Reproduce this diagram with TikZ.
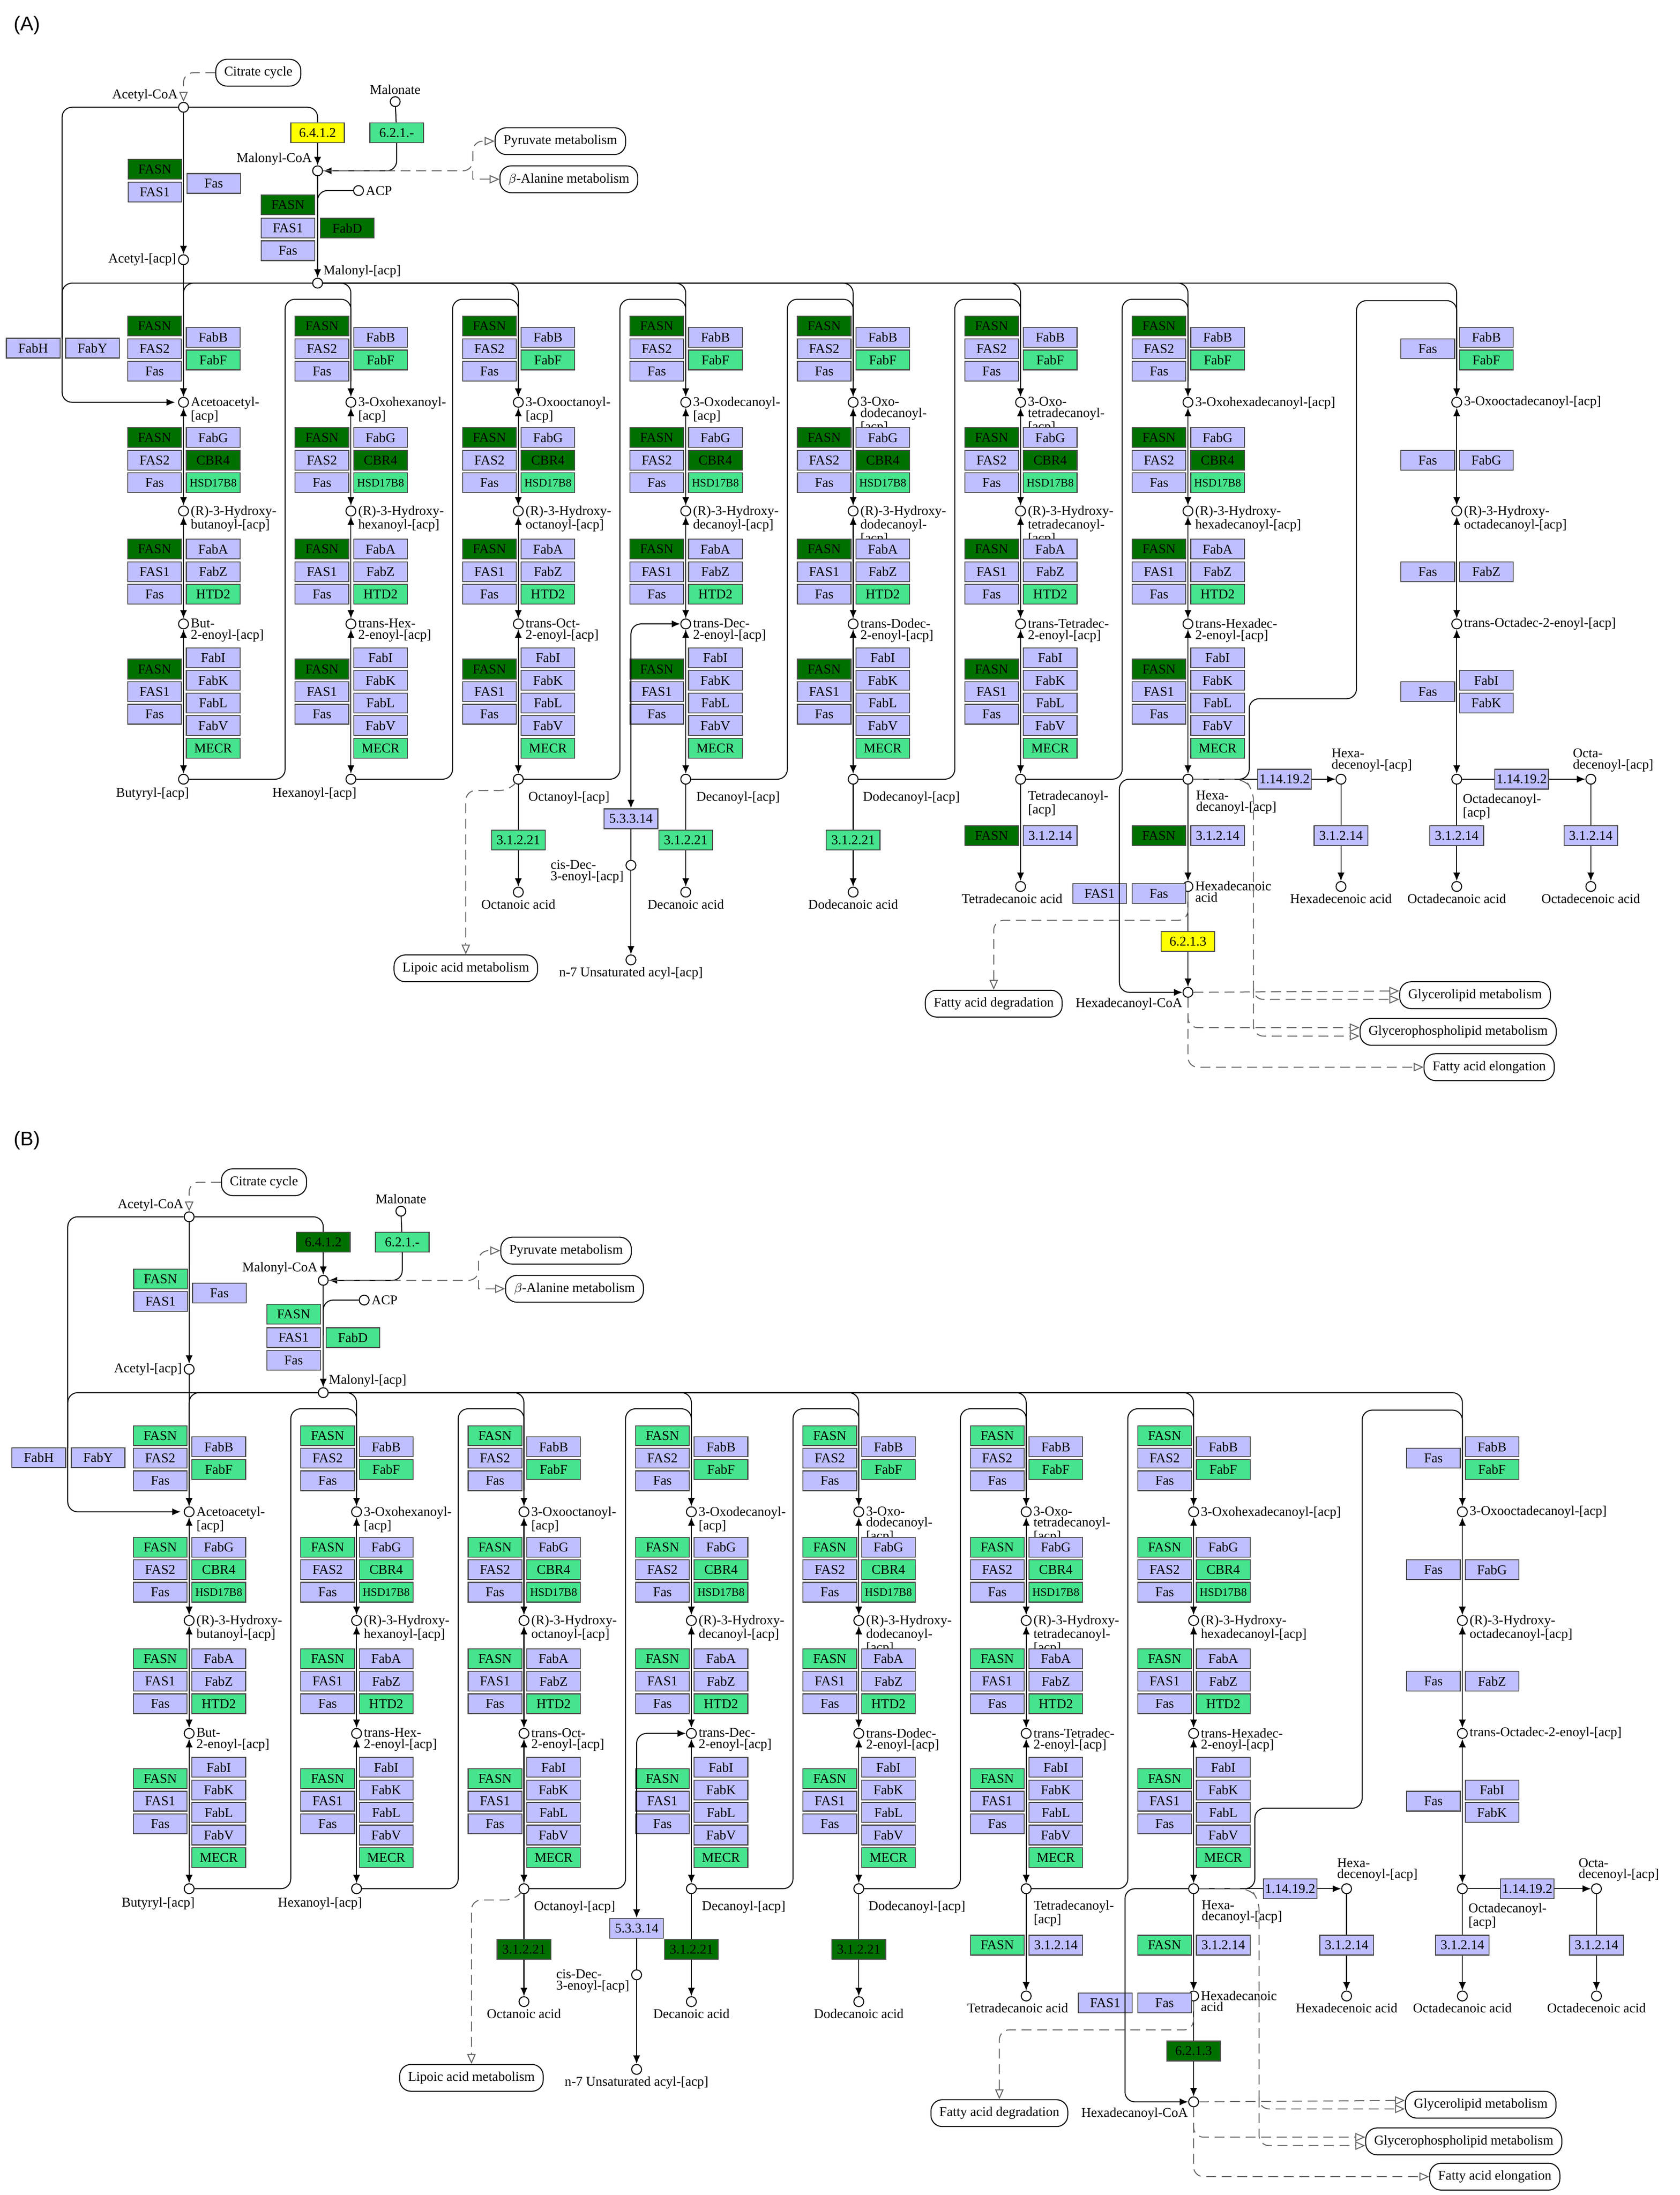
\documentclass[tikz,border=0pt]{standalone}
\usepackage{fontspec}
\setmainfont{Liberation Serif}
\newfontfamily\panelfont{Liberation Sans}
\usetikzlibrary{positioning,arrows.meta}
\definecolor{kdark} {RGB}{0,112,0}
\definecolor{klight}{RGB}{70,228,140}
\definecolor{klav}  {RGB}{191,191,255}
\definecolor{kyel}  {RGB}{255,255,0}
\newcommand{\kfont}{\fontsize{9.5}{8}\selectfont}
\newcommand{\hsd}{{\fontsize{8}{8}\selectfont HSD17B8}}

% one KEGG fatty acid biosynthesis panel
\newcommand{\fapanel}{%
    % Start compounds
    \node[cpd,label={[lbl,anchor=south east]north west:Acetyl-CoA}] (acoa) at (130,76) {};
    \node[cpd,label={[lbl]west:Acetyl-[acp]}] (aacp) at (130,184) {};
    \node[cpd,label={[lbl,anchor=south east]north west:Malonyl-CoA}] (mcoa) at (225,121) {};
    \node[cpd,label={[lbl,anchor=south west]north east:Malonyl-[acp]}] (macp) at (225,200.6) {};
    \node[cpd,label={[lbl]north:Malonate}] (malonate) at (280,72) {};
    \node[cpd,label={[lbl]east:ACP}] (acp) at (254,135) {};
    \node[map] (citrate) at (183,51.5) {Citrate cycle};
    \node[map] (pyruvate) at (397,100) {Pyruvate metabolism};
    \node[map] (alanine) at (403,127) {$\beta$-Alanine metabolism};
    \node[enz,fill=cACC] (acc) at (225,94) {6.4.1.2};
    \node[enz,fill=klight] (mcs) at (281,94) {6.2.1.-};
    \node[enz,fill=cFASN] (fasnA) at (109.7,120) {FASN};
    \node[enz] (fas1A) at (109.7,136) {FAS1};
    \node[enz] (fasA) at (151.4,130) {Fas};
    \node[enz,fill=cFASN] (fasnM) at (204,145) {FASN};
    \node[enz] (fas1M) at (204,161.6) {FAS1};
    \node[enz] (fasM) at (204,177.6) {Fas};
    \node[enz,fill=cFabD] (fabd) at (246,161.6) {FabD};
    \node[enz] (fabh) at (23.5,246.6) {FabH};
    \node[enz] (faby) at (65.5,246.6) {FabY};

    \draw[link,rc] (citrate) -| (acoa);
    \draw[rxn] (acoa) -- (aacp);
    \draw[rxn,rc] (acoa) -| (acc) -- (mcoa);
    \draw[rxn,rc] (malonate) -- (mcs) |- (mcoa);
    \draw[rxn] (mcoa) -- (macp);
    \draw[rc] (acp) -| (225,160);
    \draw[link,rc] (mcoa) -- (335,121) |- (pyruvate);
    \draw[link] (335,121) |- (alanine);
    \draw[rxn,rc] (acoa) -| (44,285) -- ++(80,0);
    \draw[rc] (macp) -| (44,240);

    % Chain elongation columns
    \foreach \i/\oxo/\hyd/\eno in {
        1/{Acetoacetyl-\\{}[acp]}/{(R)-3-Hydroxy-\\butanoyl-[acp]}/{But-\\2-enoyl-[acp]},
        2/{3-Oxohexanoyl-\\{}[acp]}/{(R)-3-Hydroxy-\\hexanoyl-[acp]}/{trans-Hex-\\2-enoyl-[acp]},
        3/{3-Oxooctanoyl-\\{}[acp]}/{(R)-3-Hydroxy-\\octanoyl-[acp]}/{trans-Oct-\\2-enoyl-[acp]},
        4/{3-Oxodecanoyl-\\{}[acp]}/{(R)-3-Hydroxy-\\decanoyl-[acp]}/{trans-Dec-\\2-enoyl-[acp]},
        5/{3-Oxo-\\dodecanoyl-\\{}[acp]}/{(R)-3-Hydroxy-\\dodecanoyl-\\{}[acp]}/{trans-Dodec-\\2-enoyl-[acp]},
        6/{3-Oxo-\\tetradecanoyl-\\{}[acp]}/{(R)-3-Hydroxy-\\tetradecanoyl-\\{}[acp]}/{trans-Tetradec-\\2-enoyl-[acp]},
        7/{3-Oxohexadecanoyl-[acp]}/{(R)-3-Hydroxy-\\hexadecanoyl-[acp]}/{trans-Hexadec-\\2-enoyl-[acp]}}
    {
        \pgfmathsetmacro\X{130+118.6*(\i-1)}
        \node[cpd,label={[lbl,anchor=north west,yshift=5pt]east:\oxo}] (oxo\i) at (\X,285) {};
        \node[cpd,label={[lbl,anchor=north west,yshift=5pt]east:\hyd}] (hyd\i) at (\X,362) {};
        \node[cpd,label={[lbl,anchor=north west,yshift=5pt]east:\eno}] (eno\i) at (\X,442) {};
        \node[cpd] (acyl\i) at (\X,552) {};
        % enzymes
        \node[enz,fill=cFASN] at ({\X-20.5},231) (fasnK\i) {FASN};
        \node[enz] at ({\X-20.5},247) (fas2K\i) {FAS2};
        \node[enz] at ({\X-20.5},263) (fasK\i) {Fas};
        \node[enz] at ({\X+21},239) (fabb\i) {FabB};
        \node[enz,fill=klight] at ({\X+21},255) (fabf\i) {FabF};
        \node[enz,fill=cFASN] at ({\X-20.5},310) (fasnR\i) {FASN};
        \node[enz] at ({\X-20.5},326) (fas2R\i) {FAS2};
        \node[enz] at ({\X-20.5},342) (fasR\i) {Fas};
        \node[enz] at ({\X+21},310) (fabg\i) {FabG};
        \node[enz,fill=cCBR] at ({\X+21},326) (cbr\i) {CBR4};
        \node[enz,fill=klight] at ({\X+21},342) (hsd\i) {\hsd};
        \node[enz,fill=cFASN] at ({\X-20.5},389) (fasnD\i) {FASN};
        \node[enz] at ({\X-20.5},405) (fas1D\i) {FAS1};
        \node[enz] at ({\X-20.5},421) (fasD\i) {Fas};
        \node[enz] at ({\X+21},389) (faba\i) {FabA};
        \node[enz] at ({\X+21},405) (fabz\i) {FabZ};
        \node[enz,fill=klight] at ({\X+21},421) (htd\i) {HTD2};
        \node[enz,fill=cFASN] at ({\X-20.5},474) (fasnE\i) {FASN};
        \node[enz] at ({\X-20.5},490) (fas1E\i) {FAS1};
        \node[enz] at ({\X-20.5},506) (fasE\i) {Fas};
        \node[enz] at ({\X+21},466) (fabi\i) {FabI};
        \node[enz] at ({\X+21},482) (fabk\i) {FabK};
        \node[enz] at ({\X+21},498) (fabl\i) {FabL};
        \node[enz] at ({\X+21},514) (fabv\i) {FabV};
        \node[enz,fill=klight] at ({\X+21},530) (mecr\i) {MECR};
        \draw[rev] (oxo\i) -- (hyd\i);
        \draw[rev] (hyd\i) -- (eno\i);
        \draw[rev] (eno\i) -- (acyl\i);
        \draw[rxn,rc] (macp) -| (oxo\i);
    }
    \draw[rxn] (aacp) -- (oxo1);
    \foreach \i in {2,...,7}{
        \pgfmathtruncatemacro\j{\i-1}
        \pgfmathsetmacro\X{130+118.6*(\i-1)}
        \draw[rc] (acyl\j) -| ({\X-46.6},212) -| (\X,270);
    }
    \node[lbl,below left=2pt and -8pt of acyl1] (lacyl1) {Butyryl-[acp]};
    \node[lbl,below left=2pt and -8pt of acyl2] (lacyl2) {Hexanoyl-[acp]};
    \node[lbl,anchor=west] at (373,565) (lacyl3) {Octanoyl-[acp]};
    \node[lbl,anchor=west] at (492,565) (lacyl4) {Decanoyl-[acp]};
    \node[lbl,anchor=west] at (610,565) (lacyl5) {Dodecanoyl-[acp]};
    \node[lbl,anchor=north west] at (727,559) (lacyl6) {Tetradecanoyl-\\{}[acp]};
    \node[lbl,anchor=north west] at (846,559) (lacyl7) {Hexa-\\decanoyl-[acp]};

    % C18 column
    \node[cpd,label={[lbl]east:3-Oxooctadecanoyl-[acp]}] (oxo8) at (1032,285) {};
    \node[cpd,label={[lbl,anchor=north west,yshift=5pt]east:{(R)-3-Hydroxy-\\octadecanoyl-[acp]}}] (hyd8) at (1032,362) {};
    \node[cpd,label={[lbl]east:trans-Octadec-2-enoyl-[acp]}] (eno8) at (1032,442) {};
    \node[cpd] (acyl8) at (1032,552) {};
    \node[lbl,anchor=north west] at (1035,561) (lacyl8) {Octadecanoyl-\\{}[acp]};
    \node[enz] (fasK8) at (1011.5,247) {Fas};
    \node[enz] (fabb8) at (1053,239) {FabB};
    \node[enz,fill=klight] (fabf8) at (1053,255) {FabF};
    \node[enz] (fasR8) at (1011.5,326) {Fas};
    \node[enz] (fabg8) at (1053,326) {FabG};
    \node[enz] (fasD8) at (1011.5,405) {Fas};
    \node[enz] (fabz8) at (1053,405) {FabZ};
    \node[enz] (fasE8) at (1011.5,490) {Fas};
    \node[enz] (fabi8) at (1053,482) {FabI};
    \node[enz] (fabk8) at (1053,498) {FabK};
    \draw[rev] (oxo8) -- (hyd8);
    \draw[rev] (hyd8) -- (eno8);
    \draw[rev] (eno8) -- (acyl8);
    \draw[rxn,rc] (macp) -| (oxo8);
    \draw[rc] (acyl7) -| (885,495) -| (961,213) -| (1032,270);

    % Thioesterase branches
    \foreach \i/\name in {3/Octanoic acid,4/Decanoic acid,5/Dodecanoic acid}{
        \pgfmathsetmacro\X{130+118.6*(\i-1)}
        \node[enz,fill=cTEs] (tes\i) at (\X,595) {3.1.2.21};
        \node[cpd,label={[lbl]below:\name}] (acid\i) at (\X,632) {};
        \draw[rxn] (acyl\i) -- (tes\i) -- (acid\i);
    }
    \node[cpd,label={[lbl,xshift=-6pt]below:Tetradecanoic acid}] (acid6) at (723,628) {};
    \node[enz,fill=cTEf] (fasnT6) at (702.5,592) {FASN};
    \node[enz] (tef6) at (744,592) {3.1.2.14};
    \draw[rxn] (acyl6) -- (acid6);
    \node[cpd,label={[lbl,anchor=north west,yshift=5pt]east:{Hexadecanoic\\acid}}] (acid7) at (841.6,628) {};
    \node[enz,fill=cTEf] (fasnT7) at (821,592) {FASN};
    \node[enz] (tef7) at (862.6,592) {3.1.2.14};
    \node[enz] (fas1H) at (779,633) {FAS1};
    \node[enz] (fasH) at (821,633) {Fas};
    \draw[rxn] (acyl7) -- (acid7);
    \node[enz,fill=cACS] (acs) at (841.6,667) {6.2.1.3};
    \node[cpd,label={[lbl]below left:Hexadecanoyl-CoA}] (hcoa) at (841.6,703) {};
    \draw[rxn] (acid7) -- (acs) -- (hcoa);
    \draw[rxn,rc] (acyl7) -| (793,703) -- (hcoa);

    % Desaturase branches
    \node[enz] (desA) at (910,552) {1.14.19.2};
    \node[cpd,label={[lbl,anchor=south west,xshift=-8pt]north:{Hexa-\\decenoyl-[acp]}}] (hdec) at (950,552) {};
    \node[enz] (tehd) at (950,592) {3.1.2.14};
    \node[cpd,label={[lbl]below:Hexadecenoic acid}] (hdacid) at (950,628) {};
    \draw[rxn] (acyl7) -- (desA) -- (hdec);
    \draw[rxn] (hdec) -- (tehd) -- (hdacid);
    \node[enz] (desB) at (1078,552) {1.14.19.2};
    \node[cpd,label={[lbl,anchor=south west,xshift=-14pt]north:{Octa-\\decenoyl-[acp]}}] (odec) at (1127,552) {};
    \node[enz] (teo) at (1032,592) {3.1.2.14};
    \node[cpd,label={[lbl]below:Octadecanoic acid}] (oacid) at (1032,628) {};
    \node[enz] (teoe) at (1127,592) {3.1.2.14};
    \node[cpd,label={[lbl]below:Octadecenoic acid}] (oeacid) at (1127,628) {};
    \draw[rxn] (acyl8) -- (desB) -- (odec);
    \draw[rxn] (acyl8) -- (teo) -- (oacid);
    \draw[rxn] (odec) -- (teoe) -- (oeacid);

    % cis-Dec branch
    \node[enz] (isom) at (447,580) {5.3.3.14};
    \node[cpd,label={[lbl,anchor=north east,yshift=5pt]west:{cis-Dec-\\3-enoyl-[acp]}}] (cisdec) at (447,613) {};
    \node[cpd,label={[lbl]below:n-7 Unsaturated acyl-[acp]}] (nseven) at (447,680) {};
    \draw[rev,rc] (cisdec) -- (isom) |- (eno4);
    \draw[rxn] (cisdec) -- (nseven);

    % Links to other maps
    \node[map] (lipoic) at (330,686) {Lipoic acid metabolism};
    \node[map] (degrad) at (704,711) {Fatty acid degradation};
    \node[map] (glyl) at (1045,705) {Glycerolipid metabolism};
    \node[map] (glyp) at (1033,731) {Glycerophospholipid metabolism};
    \node[map] (elong) at (1055,756) {Fatty acid elongation};
    \draw[link,rc] (acyl3) -- ++(-6,8) -| (lipoic.north);
    \draw[link,rc] (acid7) -- ++(0,24) -| (degrad.north);
    \draw[link,rc] (acyl7) -- ++(40,0) -- (888,560) |- ([yshift=-3pt]glyl.west);
    \draw[link,rc] (888,700) |- ([yshift=-3pt]glyp.west);
    \draw[link] (hcoa) -- ([yshift=3pt]glyl.west);
    \draw[link,rc] (hcoa) |- ([yshift=3pt]glyp.west);
    \draw[link,rc] (hcoa) |- (elong);
}

\tikzset{
    enz/.style={draw=black!70, fill=klav, minimum width=38pt, minimum height=14pt, inner sep=0pt, font=\kfont},
    cpd/.style={circle, draw, fill=white, minimum size=7pt, inner sep=0pt},
    lbl/.style={font=\kfont, align=left, inner sep=1pt},
    map/.style={draw, rounded corners=8pt, minimum height=19pt, inner xsep=6pt, font=\kfont},
    rc/.style={rounded corners=7pt},
    rxn/.style={-{Latex[length=6pt,width=5pt]}},
    rev/.style={{Latex[length=6pt,width=5pt]}-{Latex[length=6pt,width=5pt]}},
    link/.style={dashed, dash pattern=on 7pt off 4pt, black!60, -{Triangle[open,length=7pt,width=6pt]}},
}

\begin{document}
\begin{tikzpicture}[x=1pt, y=-1pt, line width=0.7pt]
    \useasboundingbox (0,0) rectangle (1190,1555);
    \node[font=\panelfont\fontsize{14}{14}\selectfont] (labA) at (19,18) {(A)};
    \node[font=\panelfont\fontsize{14}{14}\selectfont] (labB) at (19,808) {(B)};

    % Panel A
    \begin{scope}[name prefix=A-]
        \colorlet{cFASN}{kdark}\colorlet{cCBR}{kdark}\colorlet{cFabD}{kdark}
        \colorlet{cACC}{kyel}\colorlet{cTEs}{klight}\colorlet{cTEf}{kdark}\colorlet{cACS}{kyel}
        \fapanel
    \end{scope}

    % Panel B
    \begin{scope}[name prefix=B-, shift={(4,786)}]
        \colorlet{cFASN}{klight}\colorlet{cCBR}{klight}\colorlet{cFabD}{klight}
        \colorlet{cACC}{kdark}\colorlet{cTEs}{kdark}\colorlet{cTEf}{klight}\colorlet{cACS}{kdark}
        \fapanel
    \end{scope}
\end{tikzpicture}
\end{document}
